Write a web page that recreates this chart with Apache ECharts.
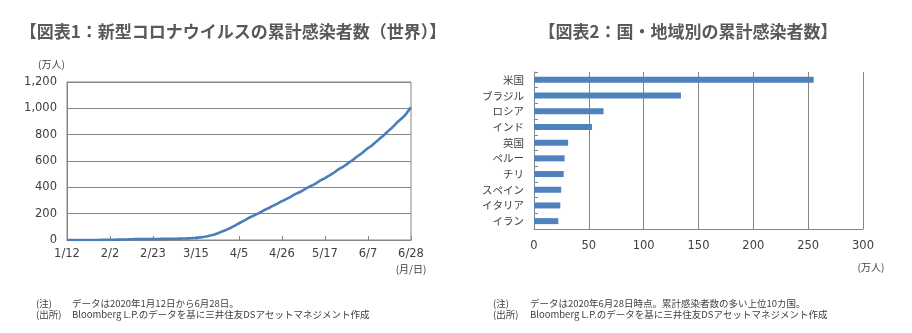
<!DOCTYPE html>
<html><head><meta charset="utf-8">
<script src="https://cdn.jsdelivr.net/npm/echarts@6/dist/echarts.min.js"></script>
<style>html,body{margin:0;padding:0;background:#fff}#c{width:912px;height:333px}</style>
</head><body><div id="c"></div>
<script>
// Chart 1: cumulative cases worldwide (万人), daily 1/12 - 6/28
const worldJan = [0.004,0.004,0.004,0.004,0.005,0.006,0.01,0.02,0.03,0.04,0.06,0.09,0.14,0.20,0.29,0.45,0.60,0.80,0.98,1.2];
const worldFeb = [1.45,1.7,2.0,2.4,2.8,3.1,3.4,3.7,4.05,4.3,4.5,4.7,6.0,6.7,6.9,7.0,7.1,7.3,7.5,7.6,7.67,7.8,7.9,7.98,8.05,8.15,8.3,8.45,8.6];
const worldMar = [8.8,9.0,9.2,9.5,9.8,10.1,10.5,10.9,11.3,11.8,12.3,12.8,14.0,15.3,16.7,18.2,20.0,21.8,24.3,27.2,30.5,33.9,37.8,41.8,46.7,53.0,59.5,66.0,72.0,78.5,85.5];
const worldApr = [93,101,109,119,127,135,143,151,160,169,177,184,191,198,206,215,224,232,239,247,255,263,270,278,287,295,302,310,318,326];
const worldMay = [335,345,352,359,366,375,385,394,402,410,417,425,435,445,454,462,470,479,488,498,507,518,530,540,549,558,568,580,592,602,612];
const worldJun = [627,638,648,659,672,685,698,708,719,733,747,760,774,787,800,815,829,843,857,873,890,904,917,931,947,966,988,1008];
const monthDays = [[1,12,31],[2,1,29],[3,1,31],[4,1,30],[5,1,31],[6,1,28]];
const yTicks1 = [0,200,400,600,800,1000,1200];

// Chart 2: by country (万人)
const countries = ['米国','ブラジル','ロシア','インド','英国','ペルー','チリ','スペイン','イタリア','イラン'];
const countryCases = [255,134,63.4,52.9,31.1,27.9,27.1,24.8,24.0,22.2];

const worldValues = [].concat(worldJan,worldFeb,worldMar,worldApr,worldMay,worldJun);
const dates = [];
monthDays.forEach(([m,s,e])=>{for(let d=s;d<=e;d++)dates.push(m+'/'+d);});

const gridColor = '#868686';
const txt = '#404040';
const numFont = 'DejaVu Sans, Noto Sans CJK JP, sans-serif';
const jpFont = 'Noto Sans CJK JP, sans-serif';

const chart = echarts.init(document.getElementById('c'), null, {renderer:'canvas'});
chart.setOption({
  backgroundColor:'#fff',
  animation:false,
  grid:[
    {left:67, top:82, width:344, height:158, show:true, borderColor:gridColor, borderWidth:1},
    {left:534, top:72, width:329, height:157}
  ],
  xAxis:[
    {gridIndex:0, type:'category', data:dates, boundaryGap:false,
     axisLine:{lineStyle:{color:gridColor}},
     axisTick:{inside:true, length:4, interval:20, lineStyle:{color:gridColor}},
     axisLabel:{interval:20, color:txt, fontSize:11.5, fontFamily:numFont, margin:8},
     splitLine:{show:false}},
    {gridIndex:1, type:'value', min:0, max:300, interval:50,
     axisLine:{show:true, lineStyle:{color:gridColor}},
     axisTick:{show:false},
     axisLabel:{color:txt, fontSize:11.5, fontFamily:numFont, margin:11},
     splitLine:{show:true, lineStyle:{color:gridColor}}}
  ],
  yAxis:[
    {gridIndex:0, type:'value', min:yTicks1[0], max:yTicks1[yTicks1.length-1], interval:200,
     axisLine:{show:true, lineStyle:{color:gridColor}},
     axisTick:{show:false},
     axisLabel:{color:txt, fontSize:11.5, fontFamily:numFont, margin:10,
       formatter:v=>v.toLocaleString('en-US')},
     splitLine:{show:true, lineStyle:{color:gridColor}}},
    {gridIndex:1, type:'category', data:countries, inverse:true,
     axisLine:{show:true, lineStyle:{color:gridColor}},
     axisTick:{show:true, inside:true, length:4, lineStyle:{color:gridColor}},
     axisLabel:{color:txt, fontSize:10.5, fontFamily:jpFont, margin:10},
     splitLine:{show:false}}
  ],
  series:[
    {type:'line', xAxisIndex:0, yAxisIndex:0, data:worldValues, showSymbol:false,
     lineStyle:{color:'#4a7ebb', width:2.6}, itemStyle:{color:'#4a7ebb'}},
    {type:'bar', xAxisIndex:1, yAxisIndex:1, data:countryCases, barWidth:6,
     itemStyle:{color:'#4f81bd'}}
  ],
  graphic:[
    {type:'text', x:233, y:32, style:{text:'【図表1：新型コロナウイルスの累計感染者数（世界）】', fill:'#595959', font:'bold 17px '+jpFont, textAlign:'center', textVerticalAlign:'middle'}},
    {type:'text', x:688, y:32, style:{text:'【図表2：国・地域別の累計感染者数】', fill:'#595959', font:'bold 17px '+jpFont, textAlign:'center', textVerticalAlign:'middle'}},
    {type:'text', x:38, y:64, style:{text:'(万人)', fill:txt, font:'10px '+jpFont, textVerticalAlign:'middle'}},
    {type:'text', x:411, y:269, style:{text:'(月/日)', fill:txt, font:'10px '+jpFont, textAlign:'center', textVerticalAlign:'middle'}},
    {type:'text', x:871, y:267, style:{text:'(万人)', fill:txt, font:'10px '+jpFont, textAlign:'center', textVerticalAlign:'middle'}},
    {type:'text', x:36, y:303, style:{text:'(注)', fill:txt, font:'9.5px '+jpFont, textVerticalAlign:'middle'}},
    {type:'text', x:72, y:303, style:{text:'データは2020年1月12日から6月28日。', fill:txt, font:'9.5px '+jpFont, textVerticalAlign:'middle'}},
    {type:'text', x:36, y:314, style:{text:'(出所)', fill:txt, font:'9.5px '+jpFont, textVerticalAlign:'middle'}},
    {type:'text', x:72, y:314, style:{text:'Bloomberg L.P.のデータを基に三井住友DSアセットマネジメント作成', fill:txt, font:'9.5px '+jpFont, textVerticalAlign:'middle'}},
    {type:'text', x:493, y:303, style:{text:'(注)', fill:txt, font:'9.5px '+jpFont, textVerticalAlign:'middle'}},
    {type:'text', x:530, y:303, style:{text:'データは2020年6月28日時点。累計感染者数の多い上位10カ国。', fill:txt, font:'9.5px '+jpFont, textVerticalAlign:'middle'}},
    {type:'text', x:493, y:314, style:{text:'(出所)', fill:txt, font:'9.5px '+jpFont, textVerticalAlign:'middle'}},
    {type:'text', x:530, y:314, style:{text:'Bloomberg L.P.のデータを基に三井住友DSアセットマネジメント作成', fill:txt, font:'9.5px '+jpFont, textVerticalAlign:'middle'}}
  ]
});
</script></body></html>
